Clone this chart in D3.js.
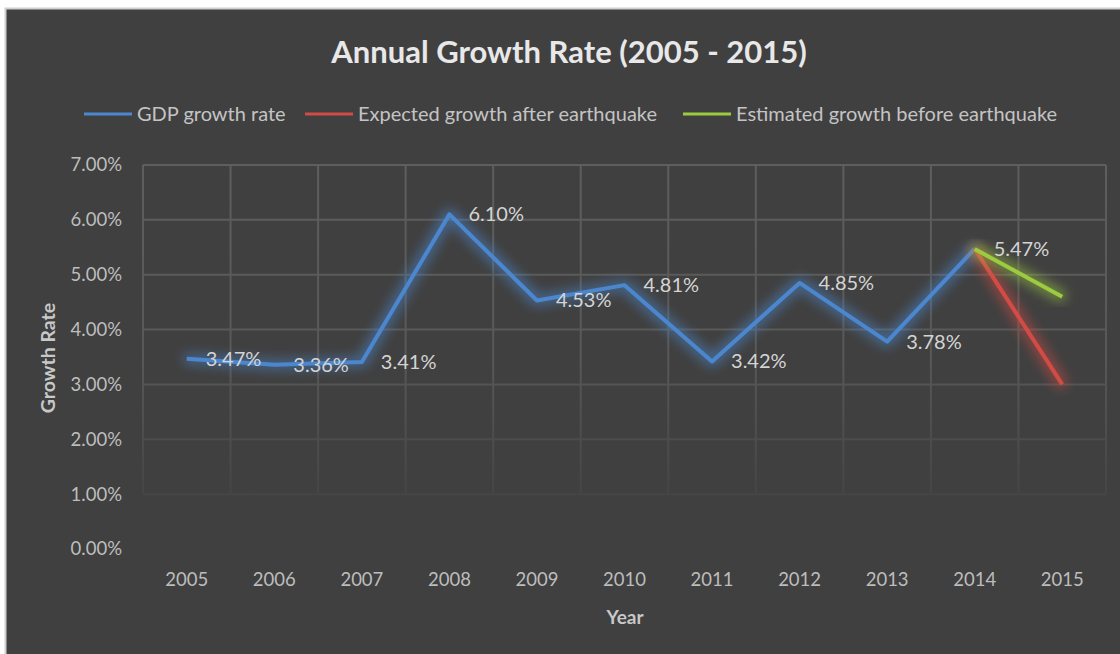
<!DOCTYPE html>
<html>
<head>
<meta charset="utf-8">
<script src="https://cdn.jsdelivr.net/npm/d3@7"></script>
<style>
  body { margin: 0; background: #fff; }
  svg { display: block; }
  text { font-family: Lato, "Open Sans", sans-serif; }
</style>
</head>
<body>
<svg width="1120" height="654"></svg>
<script>
// chart data
let years = ['2005', '2006', '2007', '2008', '2009', '2010', '2011', '2012', '2013', '2014', '2015'];
let gdpGrowth = [3.47, 3.36, 3.41, 6.10, 4.53, 4.81, 3.42, 4.85, 3.78, 5.47, null];
let afterQuake = [null, null, null, null, null, null, null, null, null, 5.47, 3.00];
let beforeQuake = [null, null, null, null, null, null, null, null, null, 5.47, 4.60];
let yTicks = [0, 1, 2, 3, 4, 5, 6, 7];

let seriesList = [
  { name: 'GDP growth rate', values: gdpGrowth, color: '#4c87cf' },
  { name: 'Expected growth after earthquake', values: afterQuake, color: '#d24b45' },
  { name: 'Estimated growth before earthquake', values: beforeQuake, color: '#9dcb3f' },
];

let svgWidth = 1120;
let svgHeight = 654;

let marginLeft = 143;
let marginTop = 165;
let plotWidth = 963;
let plotHeight = 384;

let svg = d3.select('svg');

// outer frame
svg.append('rect').attr('x', 5.5).attr('y', 8.5).attr('width', svgWidth).attr('height', svgHeight)
  .attr('fill', '#404040').attr('stroke', '#cfcfcf').attr('stroke-width', 2);

let defs = svg.append('defs');

let grad = defs.append('linearGradient')
  .attr('id', 'gridFade')
  .attr('gradientUnits', 'userSpaceOnUse')
  .attr('x1', 0).attr('y1', marginTop)
  .attr('x2', 0).attr('y2', marginTop + plotHeight);
grad.append('stop').attr('offset', '0%').attr('stop-color', '#5e5e5e');
grad.append('stop').attr('offset', '50%').attr('stop-color', '#585858');
grad.append('stop').attr('offset', '88%').attr('stop-color', '#444444');
grad.append('stop').attr('offset', '100%').attr('stop-color', '#404040');

seriesList.forEach((s, i) => {
  let f = defs.append('filter').attr('id', 'glow' + i)
    .attr('x', '-20%').attr('y', '-20%').attr('width', '140%').attr('height', '140%');
  f.append('feMorphology').attr('in', 'SourceGraphic').attr('operator', 'dilate').attr('radius', 3).attr('result', 'wide');
  f.append('feGaussianBlur').attr('in', 'wide').attr('stdDeviation', 6).attr('result', 'blur');
  f.append('feComponentTransfer').attr('in', 'blur').attr('result', 'soft')
    .append('feFuncA').attr('type', 'linear').attr('slope', 0.55);
  let m = f.append('feMerge');
  m.append('feMergeNode').attr('in', 'soft');
  m.append('feMergeNode').attr('in', 'SourceGraphic');
});

let xScale = d3.scaleBand().domain(years).range([marginLeft, marginLeft + plotWidth]);
let yScale = d3.scaleLinear().domain([0, 7]).range([marginTop + plotHeight, marginTop]);

let fmt = (v) => v.toFixed(2) + '%';

// gridlines
let grid = svg.append('g').attr('stroke', 'url(#gridFade)').attr('stroke-width', 2);
grid.selectAll('line.h').data(yTicks.slice(1)).enter().append('line')
  .attr('class', 'h')
  .attr('x1', marginLeft).attr('x2', marginLeft + plotWidth)
  .attr('y1', (d) => yScale(d)).attr('y2', (d) => yScale(d));
grid.selectAll('line.v').data(years.concat(['end'])).enter().append('line')
  .attr('class', 'v')
  .attr('x1', (d, i) => marginLeft + i * xScale.bandwidth())
  .attr('x2', (d, i) => marginLeft + i * xScale.bandwidth())
  .attr('y1', marginTop).attr('y2', yScale(1));

// y axis
let yAxis = d3.axisLeft(yScale).tickValues(yTicks).tickFormat((d) => fmt(d)).tickSize(0).tickPadding(21);
let yG = svg.append('g').attr('transform', `translate(${marginLeft},0)`).call(yAxis);
yG.select('.domain').remove();
yG.selectAll('text').attr('fill', '#bdbdbd').style('font-size', '18.5px').style('font-family', 'Lato, sans-serif');

// x axis
let xAxis = d3.axisBottom(xScale).tickSize(0).tickPadding(24);
let xG = svg.append('g').attr('transform', `translate(0,${marginTop + plotHeight})`).call(xAxis);
xG.select('.domain').remove();
xG.selectAll('text').attr('fill', '#bdbdbd').style('font-size', '18.5px').style('font-family', 'Lato, sans-serif');

// lines
let cx = (i) => xScale(years[i]) + xScale.bandwidth() / 2;
let line = d3.line()
  .defined((d) => d != null)
  .x((d, i) => cx(i))
  .y((d) => yScale(d));

seriesList.forEach((s, i) => {
  svg.append('path')
    .attr('d', line(s.values))
    .attr('fill', 'none')
    .attr('stroke', s.color)
    .attr('stroke-width', 4)
    .attr('stroke-linejoin', 'round')
    .attr('filter', `url(#glow${i})`);
});

// data labels
svg.append('g').selectAll('text')
  .data(gdpGrowth.map((v, i) => ({ v, i })).filter((d) => d.v != null))
  .enter().append('text')
  .attr('x', (d) => cx(d.i) + 19)
  .attr('y', (d) => yScale(d.v))
  .attr('dy', '0.35em')
  .attr('fill', '#d4d4d4')
  .style('font-size', '20px')
  .text((d) => fmt(d.v));

// title
svg.append('text').attr('x', 569).attr('y', 63).attr('text-anchor', 'middle')
  .attr('fill', '#e8e8e8').style('font-size', '31px').style('font-weight', 'bold')
  .text('Annual Growth Rate (2005 - 2015)');

// axis titles
svg.append('text').attr('x', 625).attr('y', 624).attr('text-anchor', 'middle')
  .attr('fill', '#c8c8c8').style('font-size', '19px').style('font-weight', 'bold').text('Year');
svg.append('text').attr('transform', 'translate(55,358) rotate(-90)').attr('text-anchor', 'middle')
  .attr('fill', '#c8c8c8').style('font-size', '19.5px').style('font-weight', 'bold').text('Growth Rate');

// legend
let legendX = [84, 305, 683];
let legend = svg.append('g').selectAll('g').data(seriesList).enter().append('g')
  .attr('transform', (d, i) => `translate(${legendX[i]},114)`);
legend.append('line').attr('x1', 0).attr('x2', 48).attr('stroke', (d) => d.color).attr('stroke-width', 3);
legend.append('text').attr('x', 53).attr('dy', '0.35em').attr('fill', '#c4c4c4')
  .style('font-size', '20px').text((d) => d.name);
</script>
</body>
</html>
